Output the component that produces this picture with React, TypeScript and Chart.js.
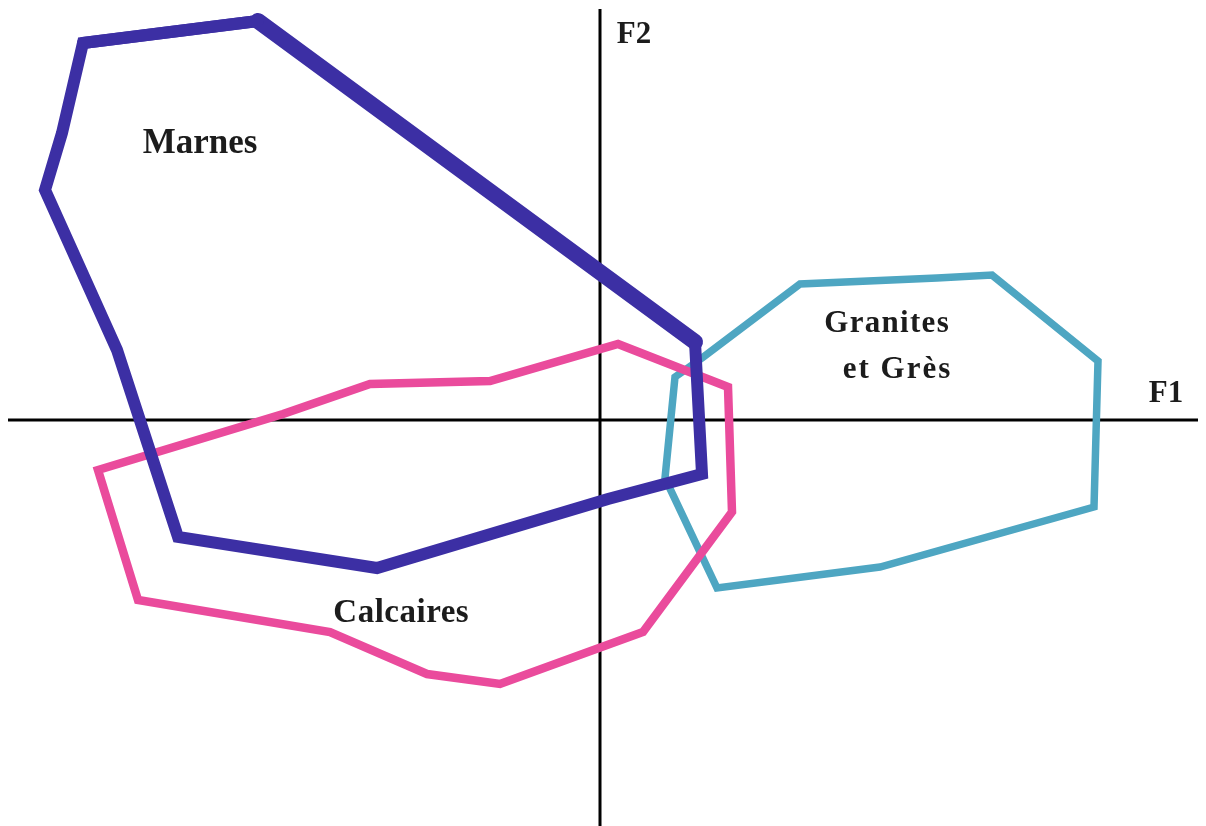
import React, { useEffect, useRef } from "react";
import { Chart, registerables } from "chart.js";

Chart.register(...registerables);

// Polygon outlines in the F1 / F2 factorial plane
const marnesF1 = [-5.17, -3.42, 0.95, 1.02, 0.08, -2.23, -4.22, -4.83, -5.55, -5.38];
const marnesF2 = [3.77, 3.99, 0.78, -0.54, -0.79, -1.48, -1.17, 0.7, 2.3, 2.87];

const calcairesF1 = [0.18, 1.28, 1.32, 0.43, -1.0, -1.73, -2.7, -4.62, -5.02, -3.17, -2.3, -1.1];
const calcairesF2 = [0.76, 0.33, -0.92, -2.12, -2.64, -2.54, -2.12, -1.8, -0.5, 0.06, 0.36, 0.39];

const granitesF1 = [1.02, 2.0, 3.37, 3.92, 4.98, 4.94, 2.8, 1.17, 0.65, 0.75];
const granitesF2 = [0.62, 1.36, 1.42, 1.45, 0.59, -0.87, -1.47, -1.68, -0.58, 0.43];

// Axes extents
const axisF1X = [-5.92, 5.98];
const axisF1Y = [0, 0];
const axisF2X = [0, 0];
const axisF2Y = [4.11, -4.07];

// Text labels
const labelTexts = ["Marnes", "Calcaires", "Granites", "et Grès", "F1", "F2"];
const labelX = [-4.0, -1.99, 2.865, 2.965, 5.66, 0.34];
const labelY = [2.67, -2.02, 0.88, 0.42, 0.18, 3.77];

// text styling (per label)
const labelStyle: Record<string, { size: number; spacing: number }> = {
  Marnes: { size: 35, spacing: 0 },
  Calcaires: { size: 33, spacing: 0.5 },
  Granites: { size: 31, spacing: 1.3 },
  "et Grès": { size: 31, spacing: 2 },
  F1: { size: 31, spacing: 0 },
  F2: { size: 31, spacing: 0 },
};

const closed = (xs: number[], ys: number[]) => {
  const pts = xs.map((x, i) => ({ x, y: ys[i] }));
  return [...pts, pts[0], pts[1]];
};
const open = (xs: number[], ys: number[]) => xs.map((x, i) => ({ x, y: ys[i] }));

const labelPlugin = {
  id: "labels",
  afterDatasetsDraw(chart: any) {
    const { ctx, scales } = chart;
    ctx.save();
    ctx.fillStyle = "#1c1c1c";
    ctx.textAlign = "center";
    ctx.textBaseline = "alphabetic";
    labelTexts.forEach((t, i) => {
      const st = labelStyle[t];
      ctx.font = `bold ${st.size}px 'Liberation Serif', 'DejaVu Serif', serif`;
      (ctx as any).letterSpacing = `${st.spacing}px`;
      ctx.fillText(
        t,
        scales.x.getPixelForValue(labelX[i]) + st.spacing / 2,
        scales.y.getPixelForValue(labelY[i])
      );
    });
    ctx.restore();
  },
};

export default function App() {
  const ref = useRef<HTMLCanvasElement>(null);

  useEffect(() => {
    if (!ref.current) return;
    const chart = new Chart(ref.current, {
      type: "scatter",
      data: {
        datasets: [
          {
            label: "Marnes",
            data: closed(marnesF1, marnesF2),
            showLine: true,
            borderColor: "#3c2fa4",
            borderWidth: 12,
            borderJoinStyle: "miter",
            borderCapStyle: "round",
            pointRadius: 0,
            tension: 0,
            clip: false,
            segment: {
              borderWidth: (c: any) => (c.p0DataIndex === 1 ? 16 : 12),
            },
          } as any,
          {
            label: "Calcaires",
            data: closed(calcairesF1, calcairesF2),
            showLine: true,
            borderColor: "#ea4b9c",
            borderWidth: 8.5,
            borderJoinStyle: "miter",
            pointRadius: 0,
            tension: 0,
            clip: false,
          },
          {
            label: "Granites et Grès",
            data: closed(granitesF1, granitesF2),
            showLine: true,
            borderColor: "#4ea6c2",
            borderWidth: 7.5,
            borderJoinStyle: "miter",
            pointRadius: 0,
            tension: 0,
            clip: false,
          },
          {
            label: "F1",
            data: open(axisF1X, axisF1Y),
            showLine: true,
            borderColor: "#000000",
            borderWidth: 3,
            pointRadius: 0,
            clip: false,
          },
          {
            label: "F2",
            data: open(axisF2X, axisF2Y),
            showLine: true,
            borderColor: "#000000",
            borderWidth: 3,
            pointRadius: 0,
            clip: false,
          },
        ],
      },
      options: {
        animation: false,
        responsive: false,
        devicePixelRatio: 1,
        layout: { padding: 0 },
        plugins: { legend: { display: false }, tooltip: { enabled: false } },
        events: [],
        scales: {
          x: { type: "linear", min: -6.0, max: 6.06, display: false },
          y: { type: "linear", min: -4.06, max: 4.2, display: false },
        },
      },
      plugins: [labelPlugin],
    });
    return () => chart.destroy();
  }, []);

  return (
    <div style={{ position: "absolute", left: 0, top: 0, width: 1206, height: 826, background: "#ffffff" }}>
      <canvas ref={ref} width={1206} height={826} style={{ display: "block" }} />
    </div>
  );
}
